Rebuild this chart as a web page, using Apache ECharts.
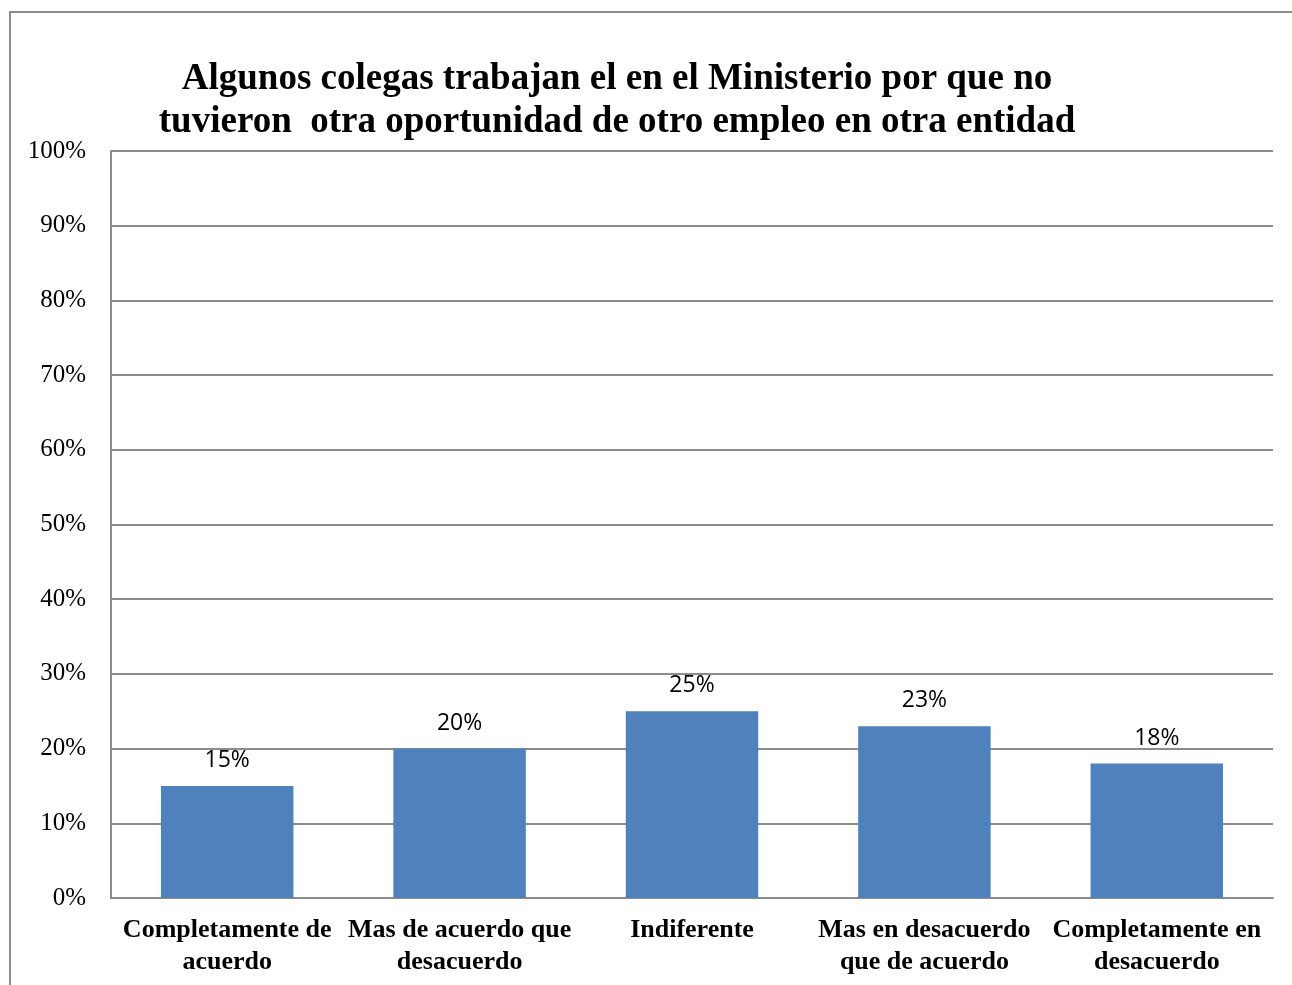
<!DOCTYPE html>
<html>
<head>
<meta charset="utf-8">
<script src="https://cdn.jsdelivr.net/npm/echarts@6/dist/echarts.min.js"></script>
<style>
  html, body { margin: 0; padding: 0; background: #fff; overflow: hidden; }
  #frame {
    position: absolute; left: 9px; top: 11px;
    width: 1320px; height: 1020px;
    border: 2px solid #8c8c8c; box-sizing: border-box;
  }
  #chart { position: absolute; left: 0; top: 0; width: 1292px; height: 985px; }
</style>
</head>
<body>
<div id="frame"></div>
<div id="chart"></div>
<script>
// categorías y valores
const categories = [
  "Completamente de\nacuerdo",
  "Mas de acuerdo que\ndesacuerdo",
  "Indiferente",
  "Mas en desacuerdo\nque de acuerdo",
  "Completamente en\ndesacuerdo"
];
const values = [15, 20, 25, 23, 18];
const yTicks = [0, 10, 20, 30, 40, 50, 60, 70, 80, 90, 100];

const chart = echarts.init(document.getElementById("chart"));
const option = {
  animation: false,
  title: {
    text: "Algunos colegas trabajan el en el Ministerio por que no\ntuvieron  otra oportunidad de otro empleo en otra entidad",
    left: 612,
    textAlign: "center",
    top: 53,
    textStyle: {
      fontFamily: "Liberation Serif",
      fontWeight: "bold",
      fontSize: 37,
      lineHeight: 43,
      color: "#000"
    }
  },
  grid: { left: 111, right: 19, top: 151, bottom: 87 },
  xAxis: {
    type: "category",
    data: categories,
    axisLine: { lineStyle: { color: "#8c8c8c", width: 2 } },
    axisTick: { show: false },
    axisLabel: {
      interval: 0,
      margin: 16,
      fontFamily: "Liberation Serif",
      fontWeight: "bold",
      fontSize: 26,
      lineHeight: 32,
      color: "#000"
    }
  },
  yAxis: {
    type: "value",
    min: yTicks[0],
    max: yTicks[yTicks.length - 1],
    interval: 10,
    axisLine: { show: true, lineStyle: { color: "#8c8c8c", width: 2 } },
    axisTick: { show: false },
    splitLine: { lineStyle: { color: "#8c8c8c", width: 2 } },
    axisLabel: {
      margin: 25,
      formatter: "{value}%",
      fontFamily: "Liberation Serif",
      fontSize: 25,
      color: "#000"
    }
  },
  series: [{
    type: "bar",
    data: values,
    barWidth: "57%",
    itemStyle: { color: "#4F81BD" },
    label: {
      show: true,
      position: "top",
      distance: 14,
      formatter: "{c}%",
      fontFamily: "Open Sans",
      fontSize: 23,
      color: "#000"
    }
  }]
};
chart.setOption(option);
</script>
</body>
</html>
